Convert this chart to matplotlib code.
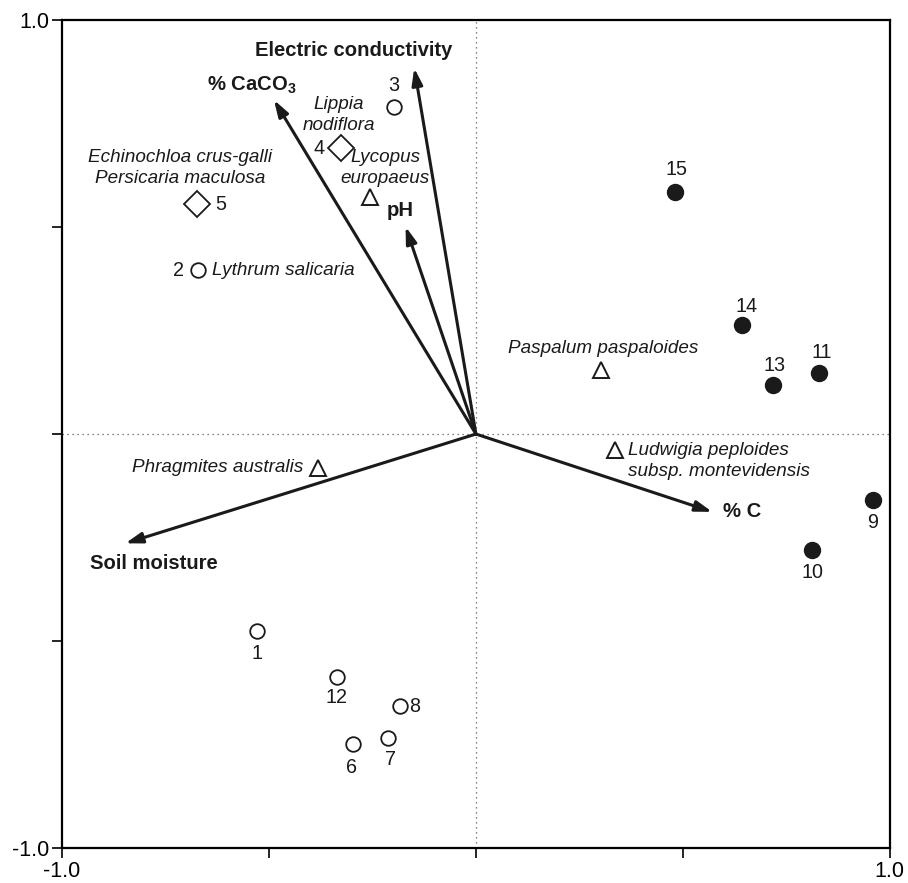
"""
CCA-style biplot: sites, species and environmental vectors
"""
import matplotlib
matplotlib.use("Agg")
import matplotlib.pyplot as plt

plt.rcParams["font.family"] = ["Liberation Sans", "DejaVu Sans"]
plt.rcParams["mathtext.fontset"] = "custom"
plt.rcParams["mathtext.rm"] = "Liberation Sans"
plt.rcParams["mathtext.bf"] = "Liberation Sans:bold"

# sites
site_ids = ["1", "2", "3", "4", "5", "6", "7", "8", "9", "10", "11", "12", "13", "14", "15"]
site_x = [-0.530, -0.671, -0.198, -0.327, -0.674, -0.297, -0.213, -0.183,
          0.959, 0.813, 0.830, -0.336, 0.717, 0.644, 0.482]
site_y = [-0.476, 0.396, 0.790, 0.690, 0.555, -0.749, -0.735, -0.657,
          -0.159, -0.280, 0.147, -0.587, 0.118, 0.263, 0.585]
site_kind = ["open", "open", "open", "diamond", "diamond", "open", "open", "open",
             "filled", "filled", "filled", "open", "filled", "filled", "filled"]

# species drawn as triangles
tri_names = ["Lycopus\neuropaeus", "Paspalum paspaloides",
             "Ludwigia peploides\nsubsp. montevidensis", "Phragmites australis"]
tri_x = [-0.255, 0.303, 0.335, -0.382]
tri_y = [0.573, 0.155, -0.039, -0.082]

# species that sit on a site
site_species = {"4": "Lippia\nnodiflora",
                "5": "Echinochloa crus-galli\nPersicaria maculosa",
                "2": "Lythrum salicaria"}

# environmental vectors
env_names = ["Electric conductivity", r"% CaCO$_\mathbf{3}$", "pH", "Soil moisture", "% C"]
env_x = [-0.149, -0.488, -0.170, -0.847, 0.571]
env_y = [0.884, 0.807, 0.501, -0.264, -0.188]

# label placement (pixel offsets, alignment)
site_lab = {
    "1": (0, -22, "center"), "2": (-14, 0, "right"), "3": (0, 21, "center"),
    "4": (-16, 0, "right"), "5": (18, 0, "left"), "6": (-1, -23, "center"),
    "7": (3, -21, "center"), "8": (9, 0, "left"), "9": (0, -23, "center"),
    "10": (0, -23, "center"), "11": (2, 21, "center"), "12": (0, -20, "center"),
    "13": (2, 20, "center"), "14": (4, 19, "center"), "15": (1, 22, "center"),
}
site_sp_lab = {"4": (-2, 33, "center"), "5": (-17, 36, "center"), "2": (14, 0, "left")}
tri_lab = [(15, 29, "center"), (2, 21, "center"), (13, -11, "left"), (-14, 0, "right")]
env_lab = [(-61, 18, "center"), (-22, 15, "center"), (-5, 16, "center"),
           (-35, -20, "left"), (11, 0, "left")]

fig = plt.figure(figsize=(9.08, 8.83), dpi=100)
ax = fig.add_axes([0.0683, 0.0396, 0.9117, 0.9377])

ax.axhline(0, color="#555555", ls=(0, (1, 3)), lw=0.9, zorder=0)
ax.axvline(0, color="#555555", ls=(0, (1, 3)), lw=0.9, zorder=0)

# environmental arrows
for name, x, y, (dx, dy, ha) in zip(env_names, env_x, env_y, env_lab):
    ax.annotate("", xy=(x, y), xytext=(0, 0),
                arrowprops=dict(arrowstyle="-|>,head_length=1.0,head_width=0.32",
                                color="#1a1a1a", lw=2.2, shrinkA=0, shrinkB=0))
    ax.annotate(name, xy=(x, y), xytext=(dx, dy), textcoords="offset pixels",
                ha=ha, va="center", fontsize=14.6, fontweight="bold", color="#1a1a1a")

# sites
for sid, x, y, kind in zip(site_ids, site_x, site_y, site_kind):
    if kind == "open":
        ax.plot(x, y, "o", ms=10.5, mfc="white", mec="#1a1a1a", mew=1.3)
    elif kind == "filled":
        ax.plot(x, y, "o", ms=11.5, mfc="#1a1a1a", mec="#1a1a1a")
    else:
        ax.plot(x, y, "D", ms=13.5, mfc="white", mec="#1a1a1a", mew=1.3)
    dx, dy, ha = site_lab[sid]
    ax.annotate(sid, xy=(x, y), xytext=(dx, dy), textcoords="offset pixels",
                ha=ha, va="center", fontsize=14.2, color="#1a1a1a")
    if sid in site_species:
        dx, dy, ha = site_sp_lab[sid]
        ax.annotate(site_species[sid], xy=(x, y), xytext=(dx, dy),
                    textcoords="offset pixels", ha=ha, va="center",
                    fontsize=13.6, style="italic", color="#1a1a1a",
                    multialignment=ha, linespacing=1.3)

# triangle species
for name, x, y, (dx, dy, ha) in zip(tri_names, tri_x, tri_y, tri_lab):
    ax.plot(x, y, "^", ms=12, mfc="white", mec="#1a1a1a", mew=1.4)
    ax.annotate(name, xy=(x, y), xytext=(dx, dy), textcoords="offset pixels",
                ha=ha, va="center", fontsize=13.6, style="italic", color="#1a1a1a",
                multialignment=ha, linespacing=1.3)

ax.set_xlim(-1, 1)
ax.set_ylim(-1, 1)
ticks = [-1.0, -0.5, 0.0, 0.5, 1.0]
ax.set_xticks(ticks)
ax.set_yticks(ticks)
ax.set_xticklabels(["-1.0", "", "", "", "1.0"])
ax.set_yticklabels(["-1.0", "", "", "", "1.0"])
ax.tick_params(direction="out", length=7, width=1.2, labelsize=15.5, pad=2)
for s in ax.spines.values():
    s.set_linewidth(1.6)

fig.savefig("out.png", dpi=100)
